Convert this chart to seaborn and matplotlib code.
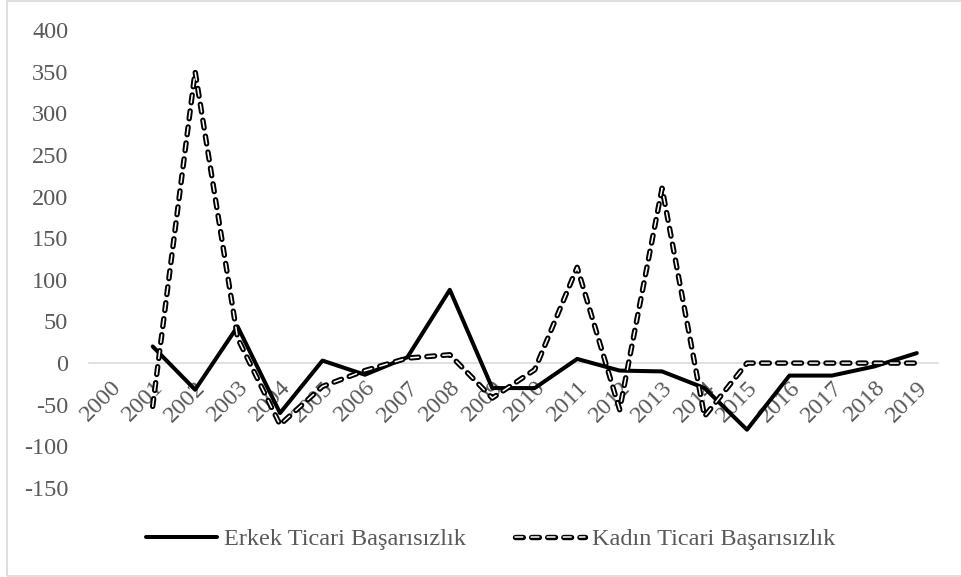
import numpy as np
import pandas as pd
import matplotlib
matplotlib.use("Agg")
import matplotlib.pyplot as plt
import matplotlib.patheffects as pe
from matplotlib.lines import Line2D
from matplotlib.patches import Rectangle
import seaborn as sns

years = [str(y) for y in range(2000, 2020)]
erkek = [np.nan, 20, -32, 44, -60, 3, -14, 7, 88, -30, -30, 5, -9, -10, -30, -80, -15, -15, -4, 12]
kadin = [np.nan, -52, 350, 30, -74, -28, -9, 6, 10, -42, -8, 115, -56, 210, -64, 0, 0, 0, 0, 0]
series_names = ["Erkek Ticari Başarısızlık", "Kadın Ticari Başarısızlık"]
yticks = list(range(-150, 401, 50))

sns.set_theme(style="white")
plt.rcParams["font.family"] = ["Liberation Serif", "DejaVu Serif"]
plt.rcParams["lines.scale_dashes"] = False
TXT = "#595959"
GRID = "#d9d9d9"
FS = 17.5

pos = np.arange(len(years))
df = pd.DataFrame({"pos": np.concatenate([pos, pos]),
                   "value": erkek + kadin,
                   "series": [series_names[0]] * len(years) + [series_names[1]] * len(years)})

fig = plt.figure(figsize=(9.62, 5.77), dpi=100)
ax = fig.add_axes([89 / 962, 1 - 488 / 577, (938 - 89) / 962, (488 - 30) / 577])

sns.lineplot(data=df[df.series == series_names[0]], x="pos", y="value",
             color="black", linewidth=2.9, ax=ax, legend=False, zorder=3)
sns.lineplot(data=df[df.series == series_names[1]], x="pos", y="value",
             color="white", linewidth=1.1, ax=ax, legend=False, zorder=4)

dash_seq = (5.6, 6.0)
kl = ax.lines[-1]
kl.set_dashes(dash_seq)
kl.set_dash_capstyle("round")
effects = [pe.Stroke(linewidth=3.9, foreground="black"), pe.Normal()]
kl.set_path_effects(effects)

for s in ["left", "top", "right"]:
    ax.spines[s].set_visible(False)
ax.spines["bottom"].set_position(("data", 0))
ax.spines["bottom"].set_color(GRID)
ax.spines["bottom"].set_linewidth(1.1)
ax.grid(False)
ax.set_facecolor("none")

ax.set_xlim(-0.5, len(years) - 0.5)
ax.set_ylim(-150, 400)
ax.set_yticks(yticks)
ax.set_yticklabels([str(v) for v in yticks], fontsize=FS, color=TXT)
ax.set_xticks(pos)
ax.set_xticklabels(years, fontsize=FS, color=TXT, rotation=45, ha="right",
                   rotation_mode="anchor")
ax.tick_params(axis="x", length=0, pad=10)
ax.tick_params(axis="y", length=0, pad=15)
ax.set_xlabel("")
ax.set_ylabel("")

h1 = Line2D([], [], color="black", linewidth=2.9)
h2 = Line2D([], [], color="white", linewidth=1.1, dashes=dash_seq,
            dash_capstyle="round", path_effects=effects)
leg = fig.legend([h1, h2], series_names, loc="center",
                 bbox_to_anchor=(491 / 962, 1 - 539 / 577), ncol=2, frameon=False,
                 fontsize=FS, handlelength=2.9, handletextpad=0.3, columnspacing=2.0)
for t in leg.get_texts():
    t.set_color(TXT)

fig.patches.append(Rectangle((7.5 / 962, 1 - 576 / 577), 1.2, (576 - 0.8) / 577,
                             transform=fig.transFigure, fill=False,
                             edgecolor=GRID, linewidth=1.2))

fig.savefig("out.png", dpi=100)
